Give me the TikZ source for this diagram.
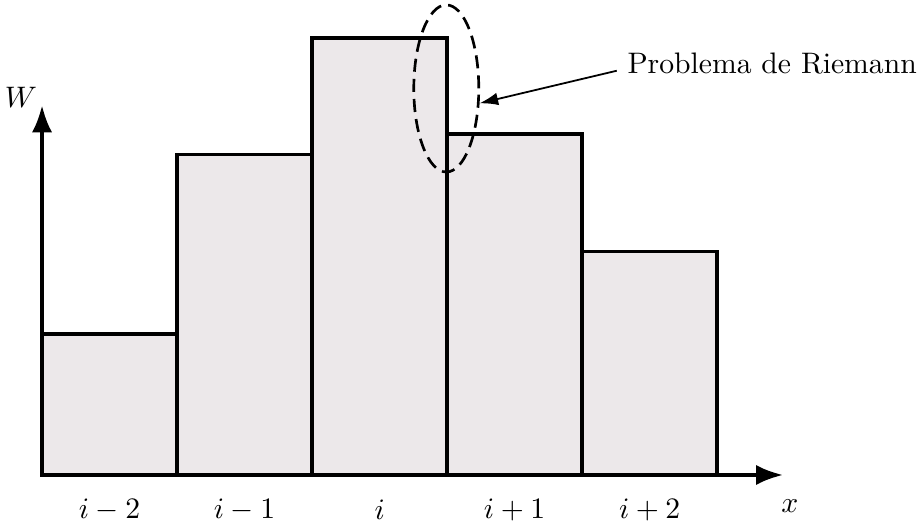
\documentclass[tikz,border=0pt]{standalone}
\usepackage{amsmath}
\usepackage{tikz}
\usetikzlibrary{
  arrows.meta,
  positioning,
  shapes.geometric
}
\usepackage{xcolor}
\definecolor{barfill}{RGB}{236,232,234}

\begin{document}
\begin{tikzpicture}[
    cell/.style={fill=barfill, draw=black, line width=1.2pt},
    ax/.style={line width=1.2pt, -{Latex[length=3.2mm,width=2.4mm]}},
    lb/.style={inner sep=2pt},
    rp/.style={ellipse, draw, dash pattern=on 4.4pt off 2.4pt, line width=0.9pt, minimum width=0.77cm, minimum height=1.98cm, inner sep=0pt},
    pt/.style={-{Latex[length=2.2mm,width=1.5mm]}, semithick}
  ]
    \useasboundingbox (-0.498,-0.604) rectangle (10.427,5.628);
    \filldraw[cell] (0,0) rectangle (1.6,1.67);
    \filldraw[cell] (1.6,0) rectangle (3.2,3.80);
    \filldraw[cell] (3.2,0) rectangle (4.8,5.18);
    \filldraw[cell] (4.8,0) rectangle (6.4,4.04);
    \filldraw[cell] (6.4,0) rectangle (8.0,2.65);
    \coordinate (O) at (0,0);
    \coordinate (ytip) at (0,4.38);
    \coordinate (xtip) at (8.78,0);
    \draw[ax] (O)--(ytip); \draw[ax] (O)--(xtip);
    \node[lb] (W) at (-0.25,4.48) {$W$};
    \node[lb] (x) at (8.86,-0.37) {$x$};
    \node[lb] (c1) at (0.8,-0.41) {$i-2$};
    \node[lb] (c2) at (2.4,-0.41) {$i-1$};
    \node[lb] (c3) at (4.0,-0.41) {$i$};
    \node[lb] (c4) at (5.6,-0.41) {$i+1$};
    \node[lb] (c5) at (7.2,-0.41) {$i+2$};
    \node[rp] (riem) at (4.79,4.58) {};
    \node[lb, anchor=west] (txt) at (6.86,4.88) {Problema de Riemann};
    \draw[pt] ([xshift=-0.5mm,yshift=-0.9mm]txt.west) -- (riem.-24);
  \end{tikzpicture}
\end{document}
